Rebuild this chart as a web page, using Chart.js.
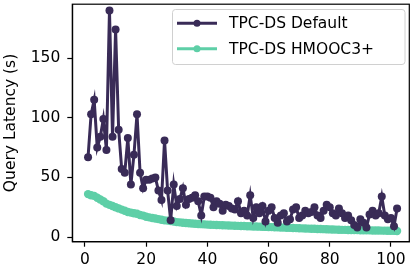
<!DOCTYPE html>
<html>
<head>
<meta charset="utf-8">
<script src="https://cdn.jsdelivr.net/npm/chart.js@4"></script>
<style>
  html, body { margin: 0; padding: 0; background: #fff; }
  #wrap { width: 415px; height: 273px; position: relative; }
</style>
</head>
<body>
<div id="wrap"><canvas id="c" width="415" height="273"></canvas></div>
<script>
const queryIndex = [1,2,3,4,5,6,7,8,9,10,11,12,13,14,15,16,17,18,19,20,21,22,23,24,25,26,27,28,29,30,31,32,33,34,35,36,37,38,39,40,41,42,43,44,45,46,47,48,49,50,51,52,53,54,55,56,57,58,59,60,61,62,63,64,65,66,67,68,69,70,71,72,73,74,75,76,77,78,79,80,81,82,83,84,85,86,87,88,89,90,91,92,93,94,95,96,97,98,99,100,101,102];
const defaultLatency = [67,103,115,75,84,99,73,190,84,174,90,57,54,83,44,69,103,54,41,48,48,49,50,39,31,81,39,14,44,26,32,41,27,32,33,35,30,18,34,34,33,25,30,28,22,27,26,24,23,30,20,22,18,35,16,25,20,26,13,22,25,16,12,18,20,13,15,23,25,16,18,22,20,21,25,18,16,22,27,25,20,18,24,20,16,18,14,10,8,15,12,8,19,22,18,20,34,18,15,16,9,24];
const hmoocLatency = [36,35,34.5,33,31.5,30,28,27,26,25,24,23,22,21,20.5,20,19.5,18.5,18,17,16.5,16,15.5,15,14.5,14,13.8,13.5,13,12.5,12.3,12,11.8,11.6,11.4,11.2,11,10.8,10.6,10.4,10.3,10.2,10.1,10,9.9,9.8,9.7,9.6,9.5,9.4,9.3,9.2,9.1,9,8.9,8.8,8.7,8.6,8.5,8.4,8.3,8.2,8.1,8,7.9,7.8,7.7,7.6,7.5,7.4,7.3,7.2,7.1,7,6.9,6.8,6.7,6.6,6.5,6.4,6.3,6.2,6.1,6.05,6,5.95,5.9,5.85,5.8,5.75,5.7,5.65,5.6,5.55,5.5,5.45,5.4,5.35,5.3,5.25,5.2,5.1];
const xTicks = [0,20,40,60,80,100];
const yTicks = [0,50,100,150];
const seriesNames = ['TPC-DS Default','TPC-DS HMOOC3+'];
const seriesColors = ['#392b57','#5ecfa7'];

const FONT = "'DejaVu Sans', sans-serif";
const FS = 15.5;

const frame = {
  id: 'frame',
  afterDatasetsDraw(chart) {
    const a = chart.chartArea, ctx = chart.ctx;
    ctx.save();
    ctx.strokeStyle = '#000'; ctx.lineWidth = 1.2;
    ctx.strokeRect(a.left, a.top, a.right - a.left, a.bottom - a.top);
    ctx.restore();
  }
};

const legendBox = {
  id: 'legendBox',
  afterDraw(chart) {
    const ctx = chart.ctx;
    const bx = 172.5, by = 9.5, bw = 232.5, bh = 55;
    ctx.save();
    ctx.fillStyle = 'rgba(255,255,255,0.85)';
    ctx.strokeStyle = '#d0d0d0'; ctx.lineWidth = 1;
    ctx.beginPath();
    ctx.roundRect(bx, by, bw, bh, 3);
    ctx.fill(); ctx.stroke();
    const rows = [23.3, 48.8];
    ctx.font = FS + 'px ' + FONT;
    ctx.textBaseline = 'middle';
    rows.forEach((y, i) => {
      ctx.strokeStyle = seriesColors[i]; ctx.lineWidth = 3;
      ctx.beginPath(); ctx.moveTo(177, y); ctx.lineTo(217, y); ctx.stroke();
      ctx.fillStyle = seriesColors[i];
      ctx.beginPath(); ctx.arc(197, y, 3.5, 0, Math.PI * 2); ctx.fill();
      ctx.fillStyle = '#000';
      ctx.fillText(seriesNames[i], 229, y + 1);
    });
    ctx.restore();
  }
};

const noPad = s => { s.paddingTop = 0; s.paddingBottom = 0; s.paddingLeft = 0; s.paddingRight = 0; };

new Chart(document.getElementById('c'), {
  type: 'line',
  data: {
    datasets: [
      {
        label: seriesNames[0],
        data: queryIndex.map((x, i) => ({ x: x, y: defaultLatency[i] })),
        borderColor: seriesColors[0], backgroundColor: seriesColors[0],
        borderWidth: 3, pointRadius: 4, pointBorderWidth: 0, tension: 0
      },
      {
        label: seriesNames[1],
        data: queryIndex.map((x, i) => ({ x: x, y: hmoocLatency[i] })),
        borderColor: seriesColors[1], backgroundColor: seriesColors[1],
        borderWidth: 4.5, pointRadius: 4.2, pointBorderWidth: 0, tension: 0
      }
    ]
  },
  options: {
    responsive: false,
    animation: false,
    devicePixelRatio: 1,
    layout: { padding: { left: 0, right: 5.7, top: 1, bottom: 0 } },
    plugins: { legend: { display: false }, tooltip: { enabled: false } },
    scales: {
      x: {
        type: 'linear', min: -4.15, max: 106,
        afterBuildTicks: s => { s.ticks = xTicks.map(v => ({ value: v })); },
        afterFit: s => { s.height = 31.3; noPad(s); },
        grid: { drawOnChartArea: false, drawTicks: true, tickLength: 5, tickColor: '#000', tickWidth: 1.2 },
        border: { display: true, color: '#000', width: 1.2 },
        ticks: { color: '#000', padding: 4, maxRotation: 0, font: { family: FONT, size: FS } }
      },
      y: {
        type: 'linear', min: -3.9, max: 195.2,
        afterBuildTicks: s => { s.ticks = yTicks.map(v => ({ value: v })); },
        afterFit: s => { s.width = 72.3; noPad(s); },
        grid: { drawOnChartArea: false, drawTicks: true, tickLength: 5, tickColor: '#000', tickWidth: 1.2 },
        border: { display: true, color: '#000', width: 1.2 },
        ticks: { color: '#000', padding: 7, font: { family: FONT, size: FS } },
        title: { display: true, text: 'Query Latency (s)', color: '#000', padding: { top: 2, bottom: 0 }, font: { family: FONT, size: FS } }
      }
    }
  },
  plugins: [frame, legendBox]
});
</script>
</body>
</html>
